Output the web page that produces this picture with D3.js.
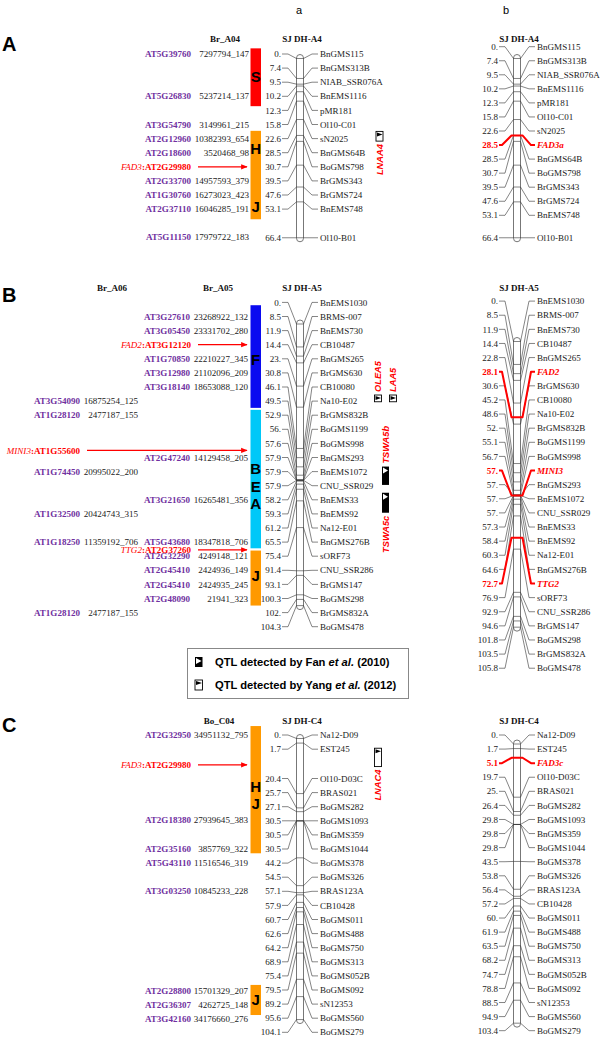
<!DOCTYPE html>
<html><head><meta charset="utf-8">
<script src="https://cdn.jsdelivr.net/npm/d3@7"></script>
<style>
body{margin:0;background:#fff}
text{font-family:"Liberation Serif","Times New Roman",serif;font-size:9.05px;fill:#222}
.hdr{font-weight:bold;fill:#111}
.gene{font-weight:bold;fill:#7030a0}
.red{fill:#ff0000}
.sans{font-family:"Liberation Sans",Arial,sans-serif}
</style>
</head><body><svg id="c" width="600" height="1038"></svg>
<script>
// ================= DATA =================
// Panel A : SJ DH-A4 (a: markers, b: markers + candidate genes)
const A4a_cM = [0,7.4,9.5,10.2,12.3,15.8,22.6,28.5,30.7,39.5,47.6,53.1,66.4];
const A4a_markers = ["BnGMS115","BnGMS313B","NIAB_SSR076A","BnEMS1116","pMR181","Ol10-C01","sN2025","BnGMS64B","BoGMS798","BrGMS343","BrGMS724","BnEMS748","Ol10-B01"];
const A4b_cM = [0,7.4,9.5,10.2,12.3,15.8,22.6,28.5,28.5,30.7,39.5,47.6,53.1,66.4];
const A4b_markers = ["BnGMS115","BnGMS313B","NIAB_SSR076A","BnEMS1116","pMR181","Ol10-C01","sN2025","FAD3a","BnGMS64B","BoGMS798","BrGMS343","BrGMS724","BnEMS748","Ol10-B01"];
const A4b_genes = ["FAD3a"];

// Panel B : SJ DH-A5
const A5a_cM = [0,8.5,11.9,14.4,23,30.8,46.1,49.5,52.9,56,57.6,57.9,57.9,57.9,58.2,59.3,61.2,65.5,75.4,91.4,93.1,100.3,102,104.3];
const A5a_markers = ["BnEMS1030","BRMS-007","BnEMS730","CB10487","BnGMS265","BrGMS630","CB10080","Na10-E02","BrGMS832B","BoGMS1199","BoGMS998","BnGMS293","BnEMS1072","CNU_SSR029","BnEMS33","BnEMS92","Na12-E01","BnGMS276B","sORF73","CNU_SSR286","BrGMS147","BoGMS298","BrGMS832A","BoGMS478"];
const A5b_cM = [0,8.5,11.9,14.4,22.8,28.1,30.6,45.2,48.6,52,55.1,56.7,57,57,57,57,57.3,58.4,60.3,64.6,72.7,76.9,92.9,94.6,101.8,103.5,105.8];
const A5b_markers = ["BnEMS1030","BRMS-007","BnEMS730","CB10487","BnGMS265","FAD2","BrGMS630","CB10080","Na10-E02","BrGMS832B","BoGMS1199","BoGMS998","MINI3","BnGMS293","BnEMS1072","CNU_SSR029","BnEMS33","BnEMS92","Na12-E01","BnGMS276B","TTG2","sORF73","CNU_SSR286","BrGMS147","BoGMS298","BrGMS832A","BoGMS478"];
const A5b_genes = ["FAD2","MINI3","TTG2"];

// Panel C : SJ DH-C4
const C4a_cM = [0,1.7,20.4,25.7,27.1,30.5,30.5,30.5,44.2,54.5,57.1,57.9,60.7,62.6,64.2,68.9,75.4,79.5,89.2,95.6,104.1];
const C4a_markers = ["Na12-D09","EST245","Ol10-D03C","BRAS021","BoGMS282","BoGMS1093","BnGMS359","BoGMS1044","BoGMS378","BoGMS326","BRAS123A","CB10428","BoGMS011","BoGMS488","BoGMS750","BoGMS313","BoGMS052B","BoGMS092","sN12353","BoGMS560","BoGMS279"];
const C4b_cM = [0,1.7,5.1,19.7,25,26.4,29.8,29.8,29.8,43.5,53.8,56.4,57.2,60,61.9,63.5,68.2,74.7,78.8,88.5,94.9,103.4];
const C4b_markers = ["Na12-D09","EST245","FAD3c","Ol10-D03C","BRAS021","BoGMS282","BoGMS1093","BnGMS359","BoGMS1044","BoGMS378","BoGMS326","BRAS123A","CB10428","BoGMS011","BoGMS488","BoGMS750","BoGMS313","BoGMS052B","BoGMS092","sN12353","BoGMS560","BoGMS279"];
const C4b_genes = ["FAD3c"];

// Arabidopsis orthologs aligned to marker rows
const A04_genes = ["AT5G39760","AT5G26830","AT3G54790","AT2G12960","AT2G18600","AT2G33700","AT1G30760","AT2G37110","AT5G11150"];
const A04_pos = ["7297794_147","5237214_137","3149961_215","10382393_654","3520468_98","14957593_379","16273023_423","16046285_191","17979722_183"];
const A04_row = [0,3,5,6,7,9,10,11,13];

const A06_genes = ["AT3G54090","AT1G28120","AT1G74450","AT1G32500","AT1G18250","AT1G28120"];
const A06_pos = ["16875254_125","2477187_155","20995022_200","20424743_315","11359192_706","2477187_155"];
const A06_row = [7,8,12,15,17,22];
const A05_genes = ["AT3G27610","AT3G05450","AT1G70850","AT3G12980","AT3G18140","AT2G47240","AT3G21650","AT5G43680","AT2G32290","AT2G45410","AT2G45410","AT2G48090"];
const A05_pos = ["23268922_132","23331702_280","22210227_345","21102096_209","18653088_120","14129458_205","16265481_356","18347818_706","4249148_121","2424936_149","2424935_245","21941_323"];
const A05_row = [1,2,4,5,6,11,14,17,18,19,20,21];

const C04_genes = ["AT2G32950","AT2G18380","AT2G35160","AT5G43110","AT3G03250","AT2G28800","AT2G36307","AT3G42160"];
const C04_pos = ["34951132_795","27939645_383","3857769_322","11516546_319","10845233_228","15701329_207","4262725_148","34176660_276"];
const C04_row = [0,6,8,9,11,18,19,20];

// candidate genes (arrows)
const arrowGenes = [
  {panel:"A", gene:"FAD3", at:"AT2G29980", row:8, col:"right"},
  {panel:"B", gene:"FAD2", at:"AT3G12120", row:3, col:"right"},
  {panel:"B", gene:"MINI3", at:"AT1G55600", row:10.5, col:"left"},
  {panel:"B", gene:"TTG2", at:"AT2G37260", row:17.55, col:"right"},
  {panel:"C", gene:"FAD3", at:"AT2G29980", row:2.1, col:"right"}
];

// synteny blocks (in marker-row units)
const blocks = [
  {panel:"A", from:-0.4, to:3.7, color:"#ff0000", letters:["S"], at:[1.6]},
  {panel:"A", from:5.45, to:11.72, color:"#ff9900", letters:["H","J"], at:[6.7,10.8]},
  {panel:"B", from:0.2, to:7.48, color:"#0a0af0", letters:["F"], at:[4.05]},
  {panel:"B", from:7.62, to:17.44, color:"#00c8f8", letters:["B","E","A"], at:[11.8,13.05,14.25]},
  {panel:"B", from:17.6, to:21.5, color:"#ff9900", letters:["J"], at:[19.4]},
  {panel:"C", from:-0.63, to:8.33, color:"#ff9900", letters:["H","J"], at:[3.6,4.8]},
  {panel:"C", from:17.6, to:19.72, color:"#ff9900", letters:["J"], at:[18.66]}
];

// QTL intervals (cM on the "a" maps)
const qtls = [
  {name:"LNAA4", map:"A", from:27.0, to:30.6, src:"Yang", label:"below"},
  {name:"OLEA5", map:"B", from:26.3, to:28.8, src:"Yang", label:"above"},
  {name:"LAA5", map:"B", from:26.3, to:28.8, src:"Yang", label:"above"},
  {name:"TSWA5b", map:"B", from:52.8, to:59.6, src:"Fan", label:"above"},
  {name:"TSWA5c", map:"B", from:62.5, to:69.9, src:"Fan", label:"below"},
  {name:"LNAC4", map:"C", from:3.6, to:10.4, src:"Yang", label:"below"}
];
const legendItems = [{src:"Fan", a:"QTL detected by Fan ", b:"et al.", c:" (2010)"},
                     {src:"Yang", a:"QTL detected by Yang ", b:"et al.", c:" (2012)"}];

// ================= LAYOUT =================
const PX_PER_CM = 2.7;
const XA = 300, XB = 517;
const panels = {
  A:{rowTop:54, rowH:14.1, letterY:50.7, headY:39.3},
  B:{rowTop:302.4, rowH:14.1, letterY:301.7, headY:288.3},
  C:{rowTop:735, rowH:14.2, letterY:731.7, headY:720.7}
};
const qtlX = {LNAA4:379.5, OLEA5:378, LAA5:393, TSWA5b:385.5, TSWA5c:385.5, LNAC4:378};

const svg = d3.select("#c");
const fmt = v => Number.isInteger(v) ? v + "." : v.toFixed(1);

function drawMap(cm, names, o) {
  const g = svg.append("g");
  const maxcM = d3.max(cm);
  const y = d3.scaleLinear().domain([0, maxcM]).range([o.zeroY, o.zeroY + maxcM * PX_PER_CM]);
  const bx = o.x;
  const ly = [];
  cm.forEach((v, i) => ly.push(o.rowTop + i * o.rowH));
  if (o.group2) {
    for (let i = o.group2.from; i < ly.length; i++) ly[i] = o.group2.top + (i - o.group2.from) * o.group2.rowH;
  }
  if (o.tail) { const n = ly.length - 1; ly[n] = Math.max(ly[n], y(cm[n])); }
  const hi = new Set(o.genes || []);
  g.append("text").attr("class","hdr").attr("x", bx + 2).attr("y", o.headY).attr("dy","0.35em")
    .attr("text-anchor","middle").text(o.title);
  g.append("rect").attr("x", bx - 3.5).attr("y", y(0) - 4).attr("width", 7)
    .attr("height", y(maxcM) - y(0) + 8).attr("rx", 3.5).attr("fill","#fff")
    .attr("stroke","#777").attr("stroke-width", 1);
  cm.forEach((v, i) => {
    if (hi.has(names[i])) return;
    const yy = y(v), l = ly[i];
    g.append("path").attr("d", `M${bx-18},${l}H${bx-12}L${bx-3.5},${yy}H${bx+3.5}L${bx+12},${l}H${bx+18}`)
      .attr("fill","none").attr("stroke","#333").attr("stroke-width", 0.6);
  });
  cm.forEach((v, i) => {
    if (!hi.has(names[i])) return;
    const yy = y(v), l = ly[i];
    g.append("path").attr("d", `M${bx-18},${l}H${bx-15}L${bx-5.5},${yy}H${bx+5.5}L${bx+14},${l}H${bx+18}`)
      .attr("fill","none").attr("stroke","#ff0000").attr("stroke-width", 2).attr("stroke-linejoin","round");
  });
  cm.forEach((v, i) => {
    const h = hi.has(names[i]);
    g.append("text").attr("x", bx - 19).attr("y", ly[i]).attr("dy","0.35em").attr("text-anchor","end")
      .attr("class", h ? "red" : null).style("font-weight", h ? "bold" : null).text(fmt(v));
    g.append("text").attr("x", bx + 20).attr("y", ly[i]).attr("dy","0.35em")
      .attr("class", h ? "red" : null).style("font-weight", h ? "bold" : null)
      .style("font-style", h ? "italic" : null).text(names[i]);
  });
  return y;
}

function drawGenes(genes, pos, rows, p, geneRight, valRight) {
  const P = panels[p];
  genes.forEach((gname, i) => {
    const yy = P.rowTop + rows[i] * P.rowH;
    svg.append("text").attr("class","gene").attr("x", geneRight).attr("y", yy).attr("dy","0.35em")
      .attr("text-anchor","end").text(gname);
    svg.append("text").attr("x", valRight).attr("y", yy).attr("dy","0.35em")
      .attr("text-anchor","end").text(pos[i]);
  });
}

// panel letters and column letters
["A","B","C"].forEach(k => {
  svg.append("text").attr("class","sans").attr("x", 2).attr("y", panels[k].letterY)
    .style("font-size","20px").style("font-weight","bold").style("fill","#000").text(k);
});
svg.append("text").attr("class","sans").attr("x", XA - 4).attr("y", 14).style("font-size","11px").style("fill","#000").text("a");
svg.append("text").attr("class","sans").attr("x", XB - 14).attr("y", 14).style("font-size","11px").style("fill","#000").text("b");

// column headers
svg.append("text").attr("class","hdr").attr("x", 225).attr("y", panels.A.headY).attr("dy","0.35em").attr("text-anchor","middle").text("Br_A04");
svg.append("text").attr("class","hdr").attr("x", 112).attr("y", panels.B.headY).attr("dy","0.35em").attr("text-anchor","middle").text("Br_A06");
svg.append("text").attr("class","hdr").attr("x", 218).attr("y", panels.B.headY).attr("dy","0.35em").attr("text-anchor","middle").text("Br_A05");
svg.append("text").attr("class","hdr").attr("x", 219).attr("y", panels.C.headY).attr("dy","0.35em").attr("text-anchor","middle").text("Bo_C04");

// synteny blocks
blocks.forEach(b => {
  const P = panels[b.panel];
  const y0 = P.rowTop + b.from * P.rowH, y1 = P.rowTop + b.to * P.rowH;
  svg.append("rect").attr("x", 250.5).attr("y", y0).attr("width", 10.5).attr("height", y1 - y0).attr("fill", b.color);
  b.letters.forEach((L, i) => {
    svg.append("text").attr("class","sans").attr("x", 255.7).attr("y", P.rowTop + b.at[i] * P.rowH)
      .attr("dy","0.36em").attr("text-anchor","middle")
      .style("font-size","15px").style("font-weight","bold").style("fill","#000").text(L);
  });
});

// gene columns
drawGenes(A04_genes, A04_pos, A04_row, "A", 191, 249);
drawGenes(A06_genes, A06_pos, A06_row, "B", 80, 138);
drawGenes(A05_genes, A05_pos, A05_row, "B", 190, 248);
drawGenes(C04_genes, C04_pos, C04_row, "C", 191, 248);

// arrows
svg.append("defs").append("marker").attr("id","ah").attr("viewBox","0 0 10 10").attr("refX",9).attr("refY",5)
  .attr("markerWidth",5).attr("markerHeight",5).attr("orient","auto")
  .append("path").attr("d","M0,1L10,5L0,9Z").attr("fill","#ff0000");
arrowGenes.forEach(a => {
  const P = panels[a.panel];
  const yy = P.rowTop + a.row * P.rowH;
  const right = a.col === "left" ? 80 : 191;
  const t = svg.append("text").attr("x", right).attr("y", yy).attr("dy","0.35em").attr("text-anchor","end");
  t.append("tspan").style("font-style","italic").style("fill","#ff0000").text(a.gene);
  t.append("tspan").style("font-weight","bold").style("fill","#ff0000").text(":" + a.at);
  svg.append("line").attr("x1", right + 7).attr("x2", 247).attr("y1", yy).attr("y2", yy)
    .attr("stroke","#ff0000").attr("stroke-width",1.3).attr("marker-end","url(#ah)");
});

// maps
const yA = drawMap(A4a_cM, A4a_markers, {x:XA, zeroY:58.5, rowTop:54, rowH:14.1, tail:true, title:"SJ DH-A4", headY:panels.A.headY});
drawMap(A4b_cM, A4b_markers, {x:XB, zeroY:58.5, rowTop:46.7, rowH:14.05, tail:true, genes:A4b_genes, title:"SJ DH-A4", headY:panels.A.headY});
const yB = drawMap(A5a_cM, A5a_markers, {x:XA, zeroY:324, rowTop:302.4, rowH:14.1, title:"SJ DH-A5", headY:panels.B.headY});
drawMap(A5b_cM, A5b_markers, {x:XB, zeroY:341.5, rowTop:301.1, rowH:14.12, genes:A5b_genes, title:"SJ DH-A5", headY:panels.B.headY});
const yC = drawMap(C4a_cM, C4a_markers, {x:XA, zeroY:738.5, rowTop:735, rowH:14.2, group2:{from:2, top:778.5, rowH:14.1}, title:"SJ DH-C4", headY:panels.C.headY});
drawMap(C4b_cM, C4b_markers, {x:XB, zeroY:744, rowTop:735, rowH:14.08, genes:C4b_genes, title:"SJ DH-C4", headY:panels.C.headY});

// QTL symbols
const mapY = {A:yA, B:yB, C:yC};
function qtlIcon(g, x0, y0, w, h, src) {
  if (src === "Fan") {
    g.append("rect").attr("x", x0).attr("y", y0).attr("width", w).attr("height", h).attr("fill","#000");
    g.append("path").attr("d", `M${x0+1},${y0+1}L${x0+w-1},${y0+4}L${x0+1},${y0+7}Z`).attr("fill","#fff");
  } else {
    g.append("rect").attr("x", x0).attr("y", y0).attr("width", w).attr("height", h).attr("fill","#fff")
      .attr("stroke","#000").attr("stroke-width",0.9);
    g.append("path").attr("d", `M${x0+1},${y0+1}L${x0+w-0.5},${y0+3}L${x0+1},${y0+5}Z`).attr("fill","#000");
  }
}
qtls.forEach(q => {
  const y = mapY[q.map], cx = qtlX[q.name];
  const y0 = y(q.from), y1 = y(q.to);
  qtlIcon(svg, cx - 3.5, y0, 7, y1 - y0, q.src);
  const ty = q.label === "below" ? y1 + 3 : y0 - 3;
  svg.append("text").attr("class","sans").attr("transform", `translate(${cx + 3.3},${ty}) rotate(-90)`)
    .attr("text-anchor", q.label === "below" ? "end" : "start")
    .style("font-size","9.3px").style("font-weight","bold").style("font-style","italic").style("fill","#ff0000")
    .text(q.name);
});

// legend
svg.append("rect").attr("x", 187.5).attr("y", 648.5).attr("width", 221).attr("height", 50)
  .attr("fill","#fff").attr("stroke","#888").attr("stroke-width",1);
legendItems.forEach((d, i) => {
  const cy = 662 + i * 23;
  qtlIcon(svg, 195, cy - 5, 7.5, 10, d.src);
  const t = svg.append("text").attr("class","sans").attr("x", 215).attr("y", cy).attr("dy","0.36em")
    .style("font-size","11.2px").style("font-weight","bold").style("fill","#000");
  t.append("tspan").text(d.a);
  t.append("tspan").style("font-style","italic").text(d.b);
  t.append("tspan").text(d.c);
});
</script></body></html>
